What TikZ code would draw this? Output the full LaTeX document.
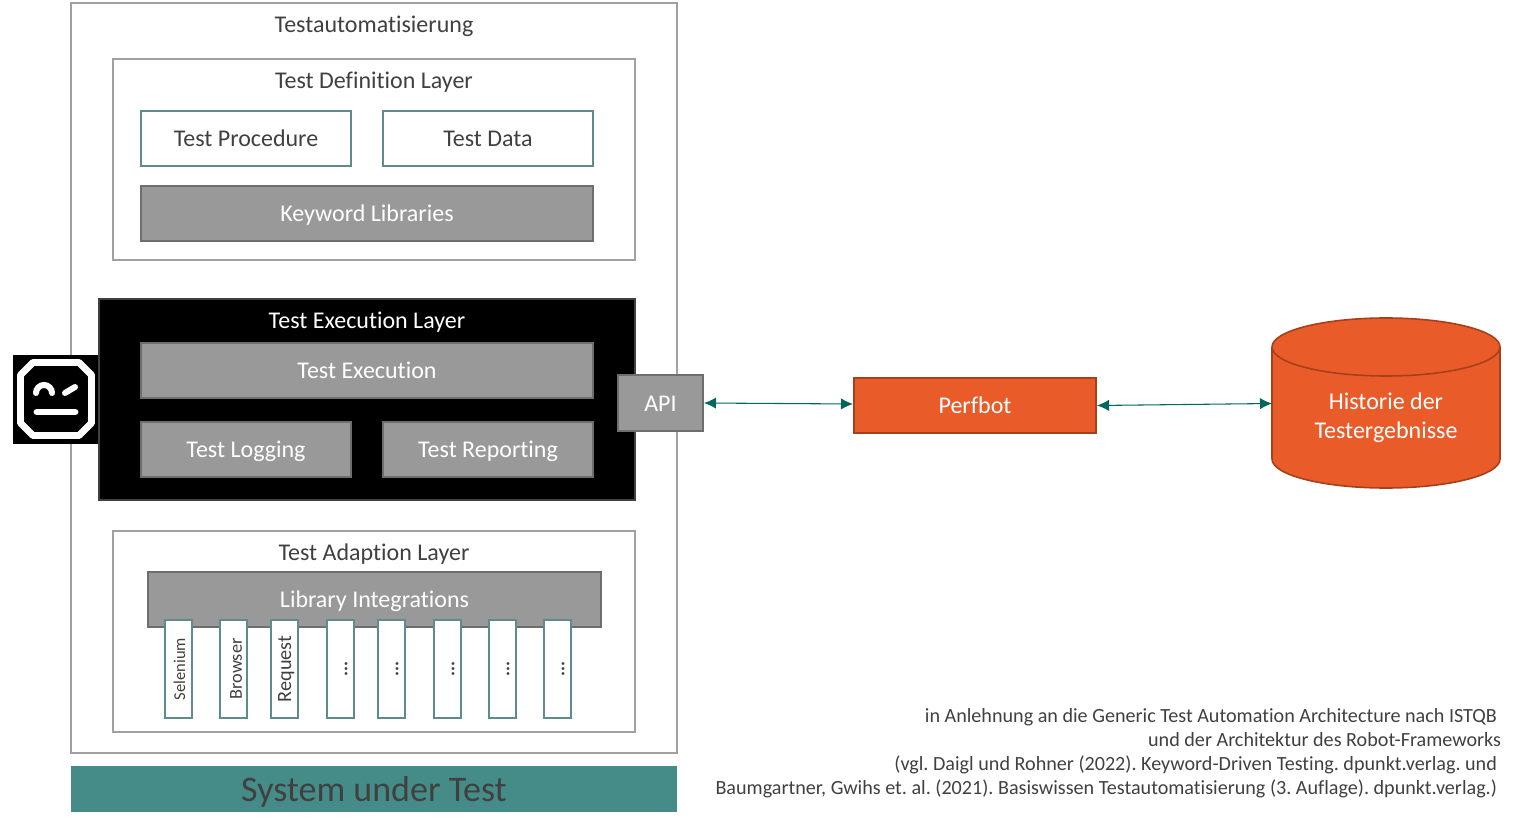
\documentclass[tikz,border=0pt]{standalone}
\usepackage{fontspec}
\setmainfont[Ligatures=CommonOff]{Carlito}
\usetikzlibrary{arrows.meta}
\definecolor{txt}{HTML}{404040}
\definecolor{frameg}{HTML}{A0A0A0}
\definecolor{tealb}{HTML}{5F8B8F}
\definecolor{greyf}{HTML}{999999}
\definecolor{greyb}{HTML}{6E6E6E}
\definecolor{orangef}{HTML}{E95C29}
\definecolor{orangeb}{HTML}{A5401B}
\definecolor{sutf}{HTML}{458C88}
\definecolor{arrowc}{HTML}{00665E}
\newcommand\bx[7]{\node[#6,minimum width={(#4-#2)*0.75pt},minimum height={(#5-#3)*0.75pt}] (#1) at ({(#2+#4)/2},{(#3+#5)/2}) {#7};}
\newcommand\colbx[4]{\node[colbox] (#1) at (#2,669) {#3#4};}
\newcommand\dotsx{\raisebox{-5.2pt}[0pt][0pt]{\fontsize{14}{14}\selectfont\textbf{...}}}
\tikzset{
  base/.style={inner sep=0pt,outer sep=0pt,font=\frenchspacing\fontsize{18}{21}\selectfont},
  uniform/.style={text height=13.5pt,text depth=1.4pt},
  frame/.style={base,draw=frameg,line width=1.5pt,fill=white,text=txt},
  lightbox/.style={base,uniform,draw=tealb,line width=1.5pt,fill=white,text=txt},
  greybox/.style={base,uniform,draw=greyb,line width=1.5pt,fill=greyf,text=white},
  blackbox/.style={base,draw=txt,line width=1.2pt,fill=black},
  orangebox/.style={base,uniform,draw=orangeb,line width=1.5pt,fill=orangef,text=white},
  title/.style={base,text=txt},
  whitetitle/.style={base,text=white},
  colbox/.style={base,draw=tealb,line width=1.5pt,fill=white,text=txt,rotate=90,minimum width=73.5pt,minimum height=20.25pt},
  link/.style={draw=arrowc,line width=0.8pt,{Latex[length=9pt,width=8.5pt]}-{Latex[length=9pt,width=8.5pt]}},
  robot/.style={white,line width=5.2pt,line cap=round,line join=round},
  roboteye/.style={white,line width=4.5pt,line cap=round},
  noteline/.style={inner sep=0pt,outer sep=0pt,text=txt,anchor=base east,font=\frenchspacing\fontsize{15.1}{18}\selectfont},
}
\begin{document}
\begin{tikzpicture}[x=0.75pt,y=-0.75pt]
\useasboundingbox (0,0) rectangle (1516,823);
% outer
\bx{outer}{71}{3}{677}{753}{frame}{}
\node[title] (tTitle) at (374,26) {Testautomatisierung};
% definition layer
\bx{defl}{113}{59}{635}{260}{frame}{}
\node[title] (defT) at (374,82) {Test Definition Layer};
\bx{proc}{141}{111}{351}{166}{lightbox}{Test Procedure}
\bx{data}{383}{111}{593}{166}{lightbox}{Test Data}
\bx{kw}{141}{186}{593}{241}{greybox}{Keyword Libraries}
% execution layer
\bx{robotbg}{13}{355}{100}{444}{base,fill=black}{}
\bx{exec}{99}{299}{635}{500}{blackbox}{}
\node[whitetitle] (execT) at (367,322) {Test Execution Layer};
\bx{te}{141}{343}{593}{398}{greybox}{Test Execution}
\bx{tl}{141}{422}{351}{477}{greybox}{Test Logging}
\bx{tr}{383}{422}{593}{477}{greybox}{Test Reporting}
\bx{api}{618}{375}{703}{431}{greybox}{API}
% robot icon
\draw[robot] (33,362.5) -- (79,362.5) -- (91.5,375) -- (91.5,423) -- (79,435.5) -- (33,435.5) -- (20.5,423) -- (20.5,375) -- cycle;
\draw[roboteye] (36,393) arc[start angle=180,end angle=360,radius=8];
\draw[roboteye] (65,393) -- (75,387);
\draw[robot] (37,412) -- (75,412);
% adaption layer
\bx{adl}{113}{531}{635}{732}{frame}{}
\node[title] (adT) at (374,554) {Test Adaption Layer};
\bx{lib}{148}{572}{601}{627}{greybox}{Library Integrations}
\colbx{c1}{178.5}{\fontsize{12.4}{14}\selectfont}{\raisebox{-4.9pt}[0pt][0pt]{Selenium}}
\colbx{c2}{233.5}{\fontsize{13.7}{15}\selectfont}{\raisebox{-6.2pt}[0pt][0pt]{Browser}}
\colbx{c3}{284.5}{\fontsize{15.2}{17}\selectfont}{\raisebox{-5pt}[0pt][0pt]{Request}}
\colbx{c4}{340.5}{}{\dotsx}
\colbx{c5}{391.5}{}{\dotsx}
\colbx{c6}{447.5}{}{\dotsx}
\colbx{c7}{502.5}{}{\dotsx}
\colbx{c8}{557.5}{}{\dotsx}
% SUT
\bx{sut}{71}{766}{677}{812}{base,fill=sutf,text=txt,text height=20pt,text depth=1pt,font=\fontsize{27}{30}\selectfont}{System under Test}
% right part
\bx{perf}{854}{378}{1096}{433}{orangebox}{Perfbot}
\draw[draw=orangeb,fill=orangef,line width=1.2pt] (1272,347) -- (1272,459) arc[start angle=180,end angle=0,x radius=114,y radius=29] -- (1500,347) arc[start angle=0,end angle=-180,x radius=114,y radius=29] -- cycle;
\draw[draw=orangeb,line width=1.2pt] (1272,347) arc[start angle=180,end angle=0,x radius=114,y radius=29];
\node[base,text=white,align=center,minimum width=171pt,minimum height=60pt,font=\fontsize{18}{22}\selectfont] (hist) at (1386,418) {Historie der\\Testergebnisse};
\coordinate (histw) at (1272,403.5);
\coordinate (perfl) at (853,404);
\coordinate (perfr) at (1097,405.5);
\coordinate (apir) at (704,403);
\draw[link] (apir) -- (perfl);
\draw[link] (perfr) -- (histw);
% note
\node[noteline] (note1) at (1497,722) {in Anlehnung an die Generic Test Automation Architecture nach ISTQB};
\node[noteline] (note2) at (1501,746) {und der Architektur des Robot-Frameworks};
\node[noteline] (note3) at (1497,770) {(vgl. Daigl und Rohner (2022). Keyword-Driven Testing. dpunkt.verlag. und};
\node[noteline] (note4) at (1497,794) {Baumgartner, Gwihs et. al. (2021). Basiswissen Testautomatisierung (3. Auflage). dpunkt.verlag.)};
\end{tikzpicture}
\end{document}
